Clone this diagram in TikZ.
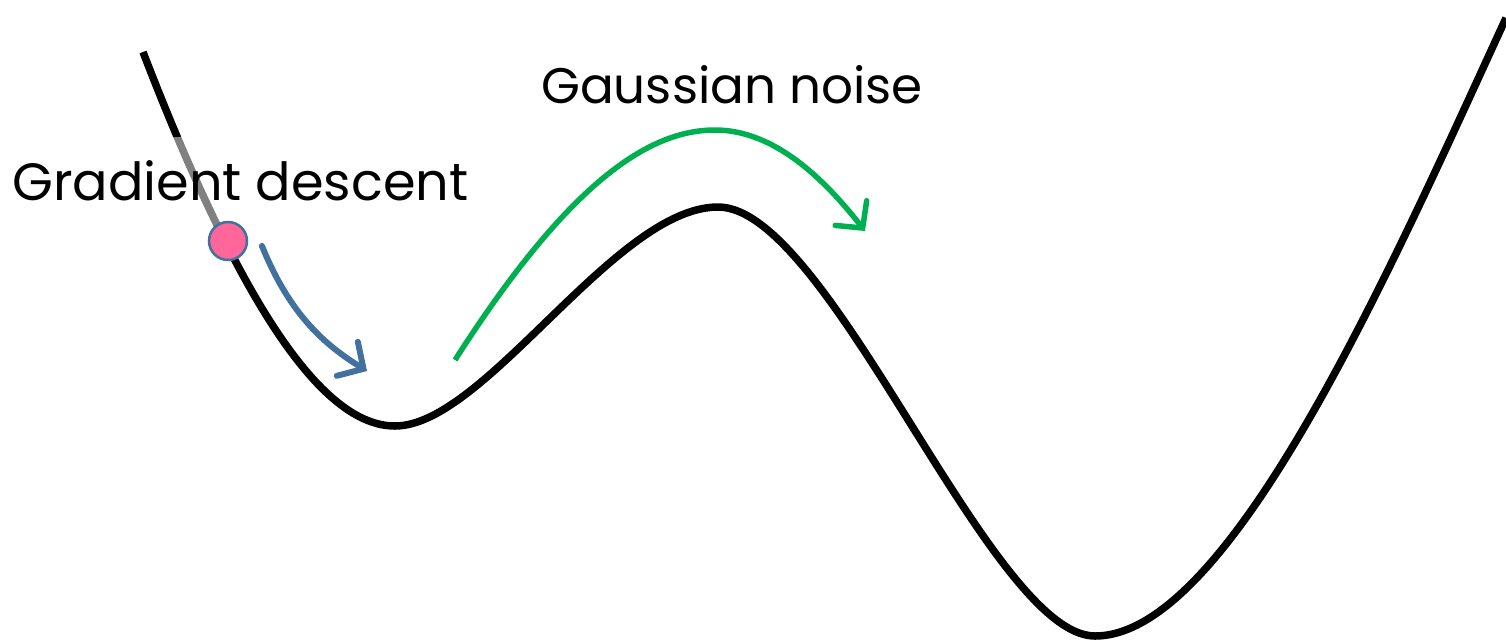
\documentclass[tikz,border=0pt]{standalone}
\usepackage{fontspec}
\setmainfont{Poppins}
\usepackage{xcolor}
\usetikzlibrary{positioning, arrows.meta}
\definecolor{stepblue}{HTML}{41719C}
\definecolor{noisegreen}{HTML}{00B050}
\definecolor{ballpink}{HTML}{FF6699}

\begin{document}
\begin{tikzpicture}[x=1pt, y=-1pt,
    landscape/.style={line width=7.5pt, black},
    label/.style={font=\fontsize{50}{56}\selectfont, inner sep=0pt},
    gdarrow/.style={line width=6pt, stepblue, line cap=round, -{Straight Barb[length=19pt, width=40pt, line cap=round]}},
    noisearrow/.style={line width=5.5pt, noisegreen, -{Straight Barb[length=19pt, width=40pt, line cap=round]}}]
    \useasboundingbox (0,0) rectangle (1506,641);
    % loss landscape
    \draw[landscape] (143,52) .. controls (250,330) and (330,426) .. (395,426)
      .. controls (485,426) and (615,207) .. (718,207)
      .. controls (830,207) and (990,636) .. (1095,636)
      .. controls (1230,636) and (1391,268) .. (1506,18);
    % labels
    \node[label, font=\fontsize{52.5}{58}\selectfont, anchor=base west, fill=white, fill opacity=0.5, text opacity=1,
      text height=63pt, text depth=28pt] (gd) at (12,200) {Gradient descent};
    \node[label, anchor=base west] (noise) at (541,103) {Gaussian noise};
    % ball and moves
    \node[circle, draw=stepblue, line width=2.5pt, fill=ballpink, minimum size=38pt, inner sep=0pt] (ball) at (228,241) {};
    \coordinate (gdstart) at (262,246);
    \coordinate (gdend) at (367,371);
    \draw[gdarrow] (gdstart) .. controls (290,315) and (325,345) .. (gdend);
    \coordinate (nstart) at (455,360);
    \coordinate (ntop) at (715,130);
    \coordinate (nend) at (865,231);
    \draw[noisearrow] (nstart) .. controls (570,180) and (650,130) .. (ntop)
      .. controls (775,130) and (825,180) .. (nend);
\end{tikzpicture}
\end{document}
